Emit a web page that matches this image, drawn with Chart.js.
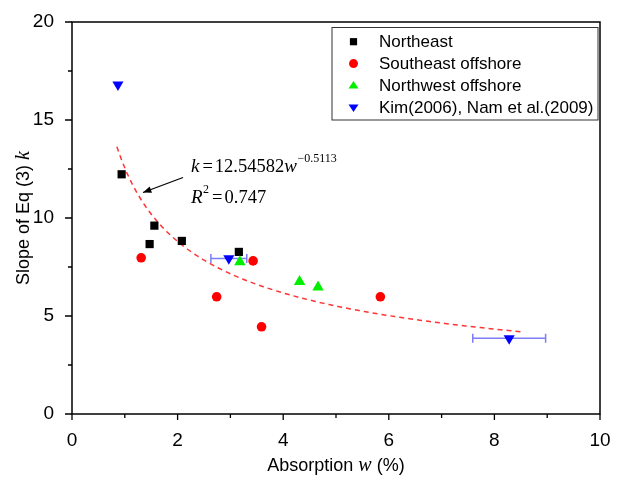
<!DOCTYPE html>
<html>
<head>
<meta charset="utf-8">
<script src="https://cdn.jsdelivr.net/npm/chart.js@4.4.1/dist/chart.umd.min.js"></script>
<style>
  html, body { margin: 0; padding: 0; background: #fff; }
</style>
</head>
<body>
<canvas id="myChart" width="622" height="478"></canvas>
<script>
// measured k against absorption w, by region
const northeastW = [0.94, 1.47, 1.56, 2.08, 3.16];
const northeastK = [12.23, 8.67, 9.61, 8.83, 8.27];
const southeastW = [1.31, 2.74, 3.43, 3.59, 5.84];
const southeastK = [7.97, 5.98, 7.81, 4.45, 5.98];
const northwestW = [3.18, 4.31, 4.66];
const northwestK = [7.76, 6.75, 6.47];
const kimW = [0.87, 2.97, 8.28];
const kimK = [16.8, 7.94, 3.86];
const kimWErr = [0, 0.34, 0.69];

// power fit k = a * w^b
const fitA = 12.54582;
const fitB = -0.5113;
const fitFrom = 0.85;
const fitTo = 8.5;

const xTicks = [0, 2, 4, 6, 8, 10];
const yTicks = [0, 5, 10, 15, 20];

const legendNames = ['Northeast', 'Southeast offshore', 'Northwest offshore', 'Kim(2006), Nam et al.(2009)'];

const SANS = '"Liberation Sans", Arial, sans-serif';
const SERIF = '"Liberation Serif", "Times New Roman", serif';

const toPts = (xs, ys) => xs.map((x, i) => ({ x: x, y: ys[i] }));

const fitPts = [];
for (let i = 0; i <= 80; i++) {
  const w = fitFrom + (fitTo - fitFrom) * i / 80;
  fitPts.push({ x: w, y: fitA * Math.pow(w, fitB) });
}

// draws one marker, used by the legend box
const marker = (ctx, style, x, y, r, color) => {
  ctx.save();
  ctx.fillStyle = color;
  ctx.beginPath();
  if (style === 'rect') {
    ctx.rect(x - r, y - r, 2 * r, 2 * r);
  } else if (style === 'circle') {
    ctx.arc(x, y, r, 0, Math.PI * 2);
  } else {
    const s = style === 'down' ? -1 : 1;
    const h = r * 1.5;
    ctx.moveTo(x, y - s * h * 0.6);
    ctx.lineTo(x + r, y + s * h * 0.4);
    ctx.lineTo(x - r, y + s * h * 0.4);
    ctx.closePath();
  }
  ctx.fill();
  ctx.restore();
};

const decorations = {
  id: 'decorations',
  beforeDatasetsDraw(chart) {
    // horizontal error bars on the literature points
    const ctx = chart.ctx, xs = chart.scales.x, ys = chart.scales.y;
    ctx.save();
    ctx.strokeStyle = '#7d7df7';
    ctx.lineWidth = 1.5;
    kimW.forEach((w, i) => {
      const e = kimWErr[i];
      if (!e) return;
      const x1 = xs.getPixelForValue(w - e), x2 = xs.getPixelForValue(w + e);
      const y = ys.getPixelForValue(kimK[i]);
      ctx.beginPath();
      ctx.moveTo(x1, y); ctx.lineTo(x2, y);
      ctx.moveTo(x1, y - 4.5); ctx.lineTo(x1, y + 4.5);
      ctx.moveTo(x2, y - 4.5); ctx.lineTo(x2, y + 4.5);
      ctx.stroke();
    });
    ctx.restore();
  },
  afterDraw(chart) {
    const ctx = chart.ctx, a = chart.chartArea, xs = chart.scales.x, ys = chart.scales.y;
    ctx.save();

    // frame
    ctx.strokeStyle = '#000';
    ctx.lineWidth = 1.5;
    ctx.strokeRect(a.left, a.top, a.right - a.left, a.bottom - a.top);

    // major and minor ticks, pointing outward
    ctx.lineWidth = 1.3;
    ctx.beginPath();
    for (let v = 0; v <= 10; v++) {
      const x = xs.getPixelForValue(v);
      ctx.moveTo(x, a.bottom);
      ctx.lineTo(x, a.bottom + (v % 2 === 0 ? 6 : 4));
    }
    for (let v = 0; v <= 20; v += 2.5) {
      const y = ys.getPixelForValue(v);
      ctx.moveTo(a.left, y);
      ctx.lineTo(a.left - (v % 5 === 0 ? 7 : 4), y);
    }
    ctx.stroke();

    // axis titles
    ctx.fillStyle = '#000';
    ctx.textBaseline = 'alphabetic';
    const xParts = [['Absorption ', '18px ' + SANS], ['w', 'italic 20px ' + SERIF], [' (%)', '18px ' + SANS]];
    const yParts = [['Slope of Eq (3) ', '18px ' + SANS], ['k', 'italic 20px ' + SERIF]];
    const runWidth = parts => parts.reduce((s, p) => { ctx.font = p[1]; return s + ctx.measureText(p[0]).width; }, 0);
    const drawRun = (parts, x, y) => {
      parts.forEach(p => { ctx.font = p[1]; ctx.fillText(p[0], x, y); x += ctx.measureText(p[0]).width; });
    };
    const cx = (a.left + a.right) / 2;
    drawRun(xParts, cx - runWidth(xParts) / 2, 471);
    ctx.save();
    ctx.translate(29, (a.top + a.bottom) / 2);
    ctx.rotate(-Math.PI / 2);
    drawRun(yParts, -runWidth(yParts) / 2, 0);
    ctx.restore();

    // fit equation
    const it = 'italic 19px ' + SERIF, rm = '18.5px ' + SERIF, sup = '12px ' + SERIF;
    let x = 191;
    const put = (t, f, y, gap) => { ctx.font = f; ctx.fillText(t, x, y); x += ctx.measureText(t).width + (gap || 0); };
    put('k', it, 171.5, 3); put('=', rm, 171.5, 2); put('12.54582', rm, 171.5); put('w', it, 171.5, 0.5);
    put('\u22120.5113', sup, 162);
    x = 191;
    put('R', it, 203, 0.5); put('2', sup, 193, 3); put('=', rm, 203, 2); put('0.747', rm, 203);

    // arrow pointing at the curve
    ctx.strokeStyle = '#000';
    ctx.lineWidth = 1.3;
    ctx.beginPath();
    ctx.moveTo(183, 177.5);
    ctx.lineTo(143, 192.5);
    ctx.stroke();
    ctx.fillStyle = '#000';
    ctx.beginPath();
    const ang = Math.atan2(192.5 - 177.5, 143 - 183);
    ctx.moveTo(143, 192.5);
    ctx.lineTo(143 - 9 * Math.cos(ang - 0.38), 192.5 - 9 * Math.sin(ang - 0.38));
    ctx.lineTo(143 - 9 * Math.cos(ang + 0.38), 192.5 - 9 * Math.sin(ang + 0.38));
    ctx.closePath();
    ctx.fill();

    // legend box
    ctx.strokeStyle = '#333';
    ctx.lineWidth = 1;
    ctx.strokeRect(332, 27.5, 266, 92.5);
    const styles = [['rect', '#000', 3.6], ['circle', '#ff0000', 4.5], ['up', '#00ee00', 5], ['down', '#0000ff', 5]];
    ctx.font = '17px ' + SANS;
    ctx.textBaseline = 'middle';
    legendNames.forEach((n, i) => {
      const y = 41.7 + i * 21.9;
      marker(ctx, styles[i][0], 353.5, y, styles[i][2], styles[i][1]);
      ctx.fillStyle = '#000';
      ctx.fillText(n, 379, y + 1);
    });
    ctx.restore();
  }
};

new Chart(document.getElementById('myChart'), {
  type: 'scatter',
  data: {
    datasets: [
      {
        label: 'fit', data: fitPts, showLine: true, pointRadius: 0,
        borderColor: 'rgba(255,30,30,0.9)', borderWidth: 1.5, borderDash: [5, 4], order: 5
      },
      {
        label: legendNames[0], data: toPts(northeastW, northeastK), pointStyle: 'rect',
        pointRadius: 5.8, backgroundColor: '#000', borderColor: '#000', borderWidth: 0, order: 4
      },
      {
        label: legendNames[1], data: toPts(southeastW, southeastK), pointStyle: 'circle',
        pointRadius: 4.8, backgroundColor: '#ff0000', borderColor: '#ff0000', borderWidth: 0, order: 3
      },
      {
        label: legendNames[2], data: toPts(northwestW, northwestK), pointStyle: 'triangle',
        pointRadius: 6.6, backgroundColor: '#00ee00', borderColor: '#00ee00', borderWidth: 0, order: 2
      },
      {
        label: legendNames[3], data: toPts(kimW, kimK), pointStyle: 'triangle', rotation: 180,
        pointRadius: 6.4, backgroundColor: '#0000ff', borderColor: '#0000ff', borderWidth: 0, order: 1
      }
    ]
  },
  options: {
    responsive: false,
    animation: false,
    layout: { padding: { left: 0, right: 22, top: 22, bottom: 0 } },
    plugins: { legend: { display: false }, tooltip: { enabled: false } },
    scales: {
      x: {
        type: 'linear', min: 0, max: 10,
        grid: { display: false },
        border: { display: false },
        afterBuildTicks: s => { s.ticks = xTicks.map(v => ({ value: v })); },
        afterFit: s => { s.height = 64; },
        ticks: { color: '#000', padding: 7, maxRotation: 0, font: { family: SANS, size: 19 } }
      },
      y: {
        type: 'linear', min: 0, max: 20,
        grid: { display: false },
        border: { display: false },
        afterBuildTicks: s => { s.ticks = yTicks.map(v => ({ value: v })); },
        afterFit: s => { s.width = 72; },
        ticks: { color: '#000', padding: 10, font: { family: SANS, size: 19 } }
      }
    }
  },
  plugins: [decorations]
});
</script>
</body>
</html>
